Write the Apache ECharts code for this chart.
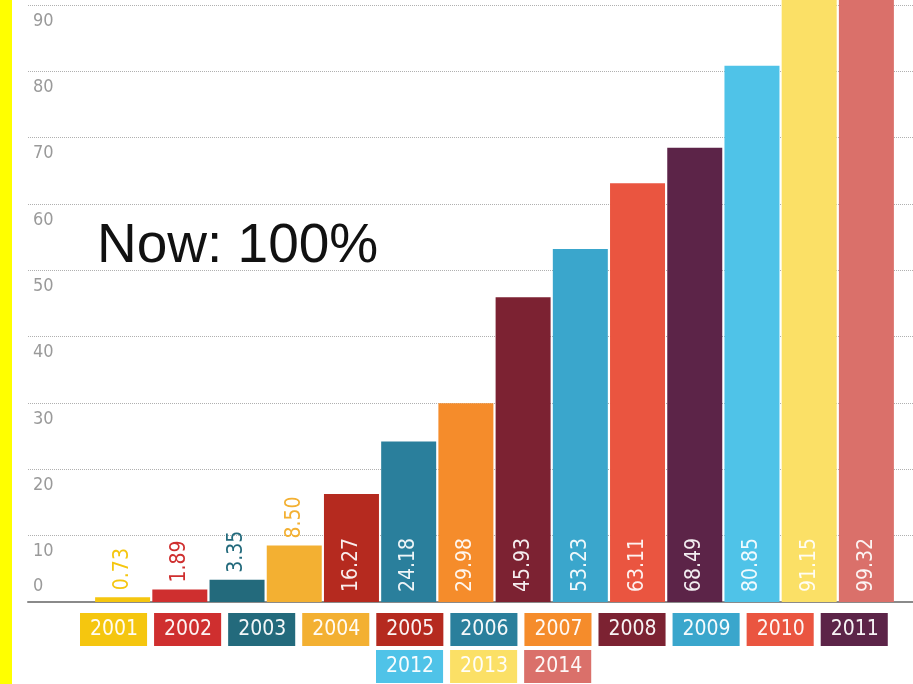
<!DOCTYPE html>
<html>
<head>
<meta charset="utf-8">
<title>Now: 100%</title>
<script src="https://cdn.jsdelivr.net/npm/echarts@6/dist/echarts.min.js"></script>
<style>
    html, body { margin: 0; padding: 0; background: #fff; }
    #chart { width: 913px; height: 684px; }
</style>
</head>
<body>
<div id="chart"></div>
<script>
// 数据
var years = ['2001', '2002', '2003', '2004', '2005', '2006', '2007',
    '2008', '2009', '2010', '2011', '2012', '2013', '2014'];
var values = [0.73, 1.89, 3.35, 8.50, 16.27, 24.18, 29.98,
    45.93, 53.23, 63.11, 68.49, 80.85, 91.15, 99.32];
var colors = ['#f5c60f', '#cf2f2f', '#236a7c', '#f3b032', '#b52a1f', '#2a7f9c', '#f58c2b',
    '#7c2232', '#3aa6cc', '#ea5540', '#5c2448', '#4fc3e8', '#fbe066', '#da706a'];
var yMin = 0;
var yMax = 90;
var yStep = 10;
var firstRow = years.slice(0, 11);
var secondRow = years.slice(11);

var condensed = '"DejaVu Sans Condensed", "DejaVu Sans", sans-serif';

var myChart = echarts.init(document.getElementById('chart'));

// 图例项：文字放在彩色方块里
function legendItems(list) {
    return list.map(function (name) {
        var i = years.indexOf(name);
        return {
            name: name,
            textStyle: {
                color: 'rgba(255,255,255,0.95)',
                backgroundColor: colors[i],
                padding: [6, 9, 6, 10]
            }
        };
    });
}

var series = years.map(function (name, i) {
    var small = values[i] < 10;
    return {
        name: name,
        type: 'bar',
        xAxisIndex: 1,
        yAxisIndex: 1,
        barWidth: 55,
        barGap: '-100%',
        clip: false,
        itemStyle: { color: colors[i] },
        label: {
            show: true,
            position: small ? 'top' : 'insideBottom',
            rotate: 90,
            align: 'left',
            verticalAlign: 'middle',
            distance: small ? 7 : 10,
            color: small ? colors[i] : 'rgba(255,255,255,0.92)',
            fontFamily: condensed,
            fontSize: 21,
            formatter: function (p) {
                return Number(p.value).toFixed(2);
            }
        },
        data: years.map(function (y, j) {
            return j === i ? values[i] : '-';
        })
    };
});

var option = {
    backgroundColor: '#fff',
    animation: false,
    graphic: [{
        type: 'rect',
        left: 0,
        top: 0,
        shape: { width: 12, height: 684 },
        style: { fill: '#ffff00' },
        silent: true
    }],
    title: {
        text: 'Now: 100%',
        left: 97,
        top: 219,
        padding: 0,
        textStyle: {
            color: '#111',
            fontFamily: '"Liberation Sans", Arial, sans-serif',
            fontSize: 55,
            fontWeight: 'normal'
        }
    },
    legend: [{
        data: legendItems(firstRow),
        left: 75,
        top: 613,
        padding: 0,
        itemWidth: 0,
        itemHeight: 0,
        itemGap: 2,
        selectedMode: false,
        textStyle: { fontFamily: condensed, fontSize: 21 }
    }, {
        data: legendItems(secondRow),
        left: 371,
        top: 650,
        padding: 0,
        itemWidth: 0,
        itemHeight: 0,
        itemGap: 2,
        selectedMode: false,
        textStyle: { fontFamily: condensed, fontSize: 21 }
    }],
    grid: [
        { left: 28, right: 0, top: 5, bottom: 82, outerBoundsMode: 'none' },
        { left: 94, right: 18, top: 5, bottom: 82, outerBoundsMode: 'none' }
    ],
    xAxis: [{
        type: 'value',
        gridIndex: 0,
        min: 0,
        max: 1,
        axisLine: { show: true, lineStyle: { color: '#8a8a8a', width: 2 } },
        axisTick: { show: false },
        axisLabel: { show: false },
        splitLine: { show: false }
    }, {
        type: 'category',
        gridIndex: 1,
        data: years,
        axisLine: { show: false },
        axisTick: { show: false },
        axisLabel: { show: false }
    }],
    yAxis: [{
        type: 'value',
        gridIndex: 0,
        min: yMin,
        max: yMax,
        interval: yStep,
        axisLine: { show: false },
        axisTick: { show: false },
        axisLabel: {
            inside: true,
            margin: 5,
            color: '#9a9a9a',
            fontFamily: condensed,
            fontSize: 18,
            lineHeight: 32,
            verticalAlign: 'middle',
            showMinLabel: true,
            showMaxLabel: true,
            formatter: function (v) {
                // 0 在线上方，其余在线下方
                return v === 0 ? v + '\n' : '\n' + v;
            }
        },
        splitLine: {
            lineStyle: { type: 'dotted', color: '#b0b0b0', width: 1 }
        }
    }, {
        type: 'value',
        gridIndex: 1,
        min: yMin,
        max: yMax,
        show: false
    }],
    series: series
};

myChart.setOption(option);
</script>
</body>
</html>
